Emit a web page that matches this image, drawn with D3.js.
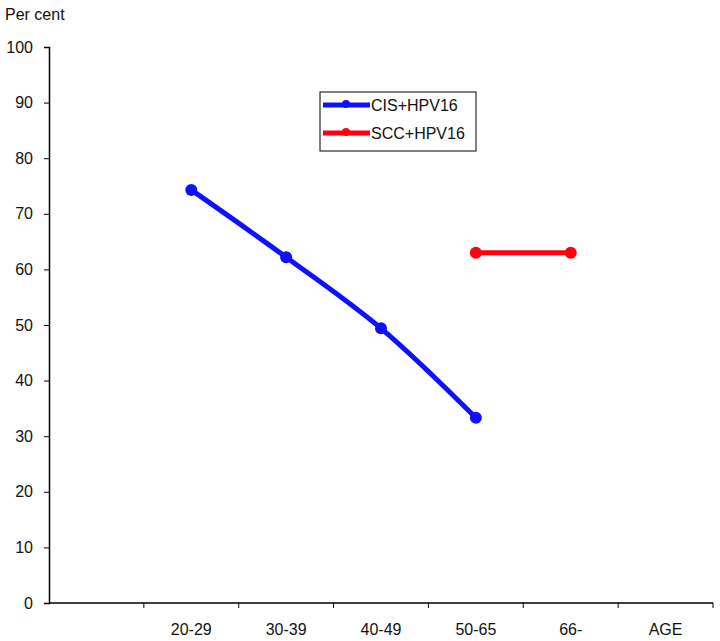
<!DOCTYPE html>
<html>
<head>
<meta charset="utf-8">
<script src="https://cdn.jsdelivr.net/npm/d3@7"></script>
<style>
  body { margin: 0; background: #fff; }
  text { font-family: "Liberation Sans", Arial, sans-serif; }
</style>
</head>
<body>
<div id="chart"></div>
<script>
const categories = ["", "20-29", "30-39", "40-49", "50-65", "66-", "AGE"];
const cisAges = ["20-29", "30-39", "40-49", "50-65"];
const cisValues = [74.3, 62.2, 49.4, 33.3];
const sccAges = ["50-65", "66-"];
const sccValues = [63, 63];
const yTicks = [0, 10, 20, 30, 40, 50, 60, 70, 80, 90, 100];

const margin = { top: 47, right: 7, bottom: 38, left: 49 };
const width = 720 - margin.left - margin.right;
const height = 641 - margin.top - margin.bottom;

const svg = d3.select("#chart").append("svg")
  .attr("width", 720)
  .attr("height", 641)
  .append("g")
  .attr("transform", `translate(${margin.left},${margin.top})`);

const x = d3.scaleBand().domain(categories).range([0, 664]);
const y = d3.scaleLinear().domain([0, 100]).range([556, 0]);

// y axis
const yAxis = svg.append("g")
  .call(d3.axisLeft(y).tickValues(yTicks).tickSize(5).tickPadding(11));
yAxis.select(".domain").attr("stroke", "#000").attr("stroke-width", 1.5);
yAxis.selectAll(".tick line").attr("stroke", "#000");
yAxis.selectAll("text").style("font-size", "16px").attr("fill", "#111");

// x axis: ticks at band boundaries
const xAxis = svg.append("g").attr("transform", "translate(0,556)");
xAxis.append("line")
  .attr("x1", 0).attr("x2", 664)
  .attr("stroke", "#000").attr("stroke-width", 1.5);
categories.forEach((c, i) => {
  const bx = x(c) + x.bandwidth();
  xAxis.append("line")
    .attr("x1", bx).attr("x2", bx)
    .attr("y1", 0).attr("y2", 5)
    .attr("stroke", "#000");
  xAxis.append("text")
    .attr("x", x(c) + x.bandwidth() / 2)
    .attr("y", 32)
    .attr("text-anchor", "middle")
    .style("font-size", "16px")
    .attr("fill", "#111")
    .text(c);
});

svg.append("text")
  .attr("x", -44)
  .attr("y", -27)
  .style("font-size", "16px")
  .attr("fill", "#111")
  .text("Per cent");

const cx = a => x(a) + x.bandwidth() / 2;

const line = d3.line().curve(d3.curveCatmullRom);

function drawSeries(ages, values, color) {
  const pts = ages.map((a, i) => [cx(a), y(values[i])]);
  svg.append("path")
    .attr("d", line(pts))
    .attr("fill", "none")
    .attr("stroke", color)
    .attr("stroke-width", 5);
  svg.selectAll(null)
    .data(pts)
    .enter()
    .append("circle")
    .attr("cx", d => d[0])
    .attr("cy", d => d[1])
    .attr("r", 6)
    .attr("fill", color);
}

drawSeries(cisAges, cisValues, "#1010ff");
drawSeries(sccAges, sccValues, "#ff0010");

// legend
const legend = svg.append("g").attr("transform", `translate(${320 - margin.left},${92 - margin.top})`);
legend.append("rect")
  .attr("width", 156).attr("height", 59)
  .attr("fill", "#fff").attr("stroke", "#000").attr("stroke-width", 1);
const legendItems = [["CIS+HPV16", "#1010ff"], ["SCC+HPV16", "#ff0010"]];
legendItems.forEach((d, i) => {
  const ly = 13 + i * 28;
  legend.append("line")
    .attr("x1", 3).attr("x2", 50)
    .attr("y1", ly).attr("y2", ly)
    .attr("stroke", d[1]).attr("stroke-width", 5);
  legend.append("circle")
    .attr("cx", 26).attr("cy", ly - 1).attr("r", 4).attr("fill", d[1]);
  legend.append("text")
    .attr("x", 51).attr("y", ly + 6)
    .style("font-size", "16px")
    .attr("fill", "#111")
    .text(d[0]);
});
</script>
</body>
</html>
